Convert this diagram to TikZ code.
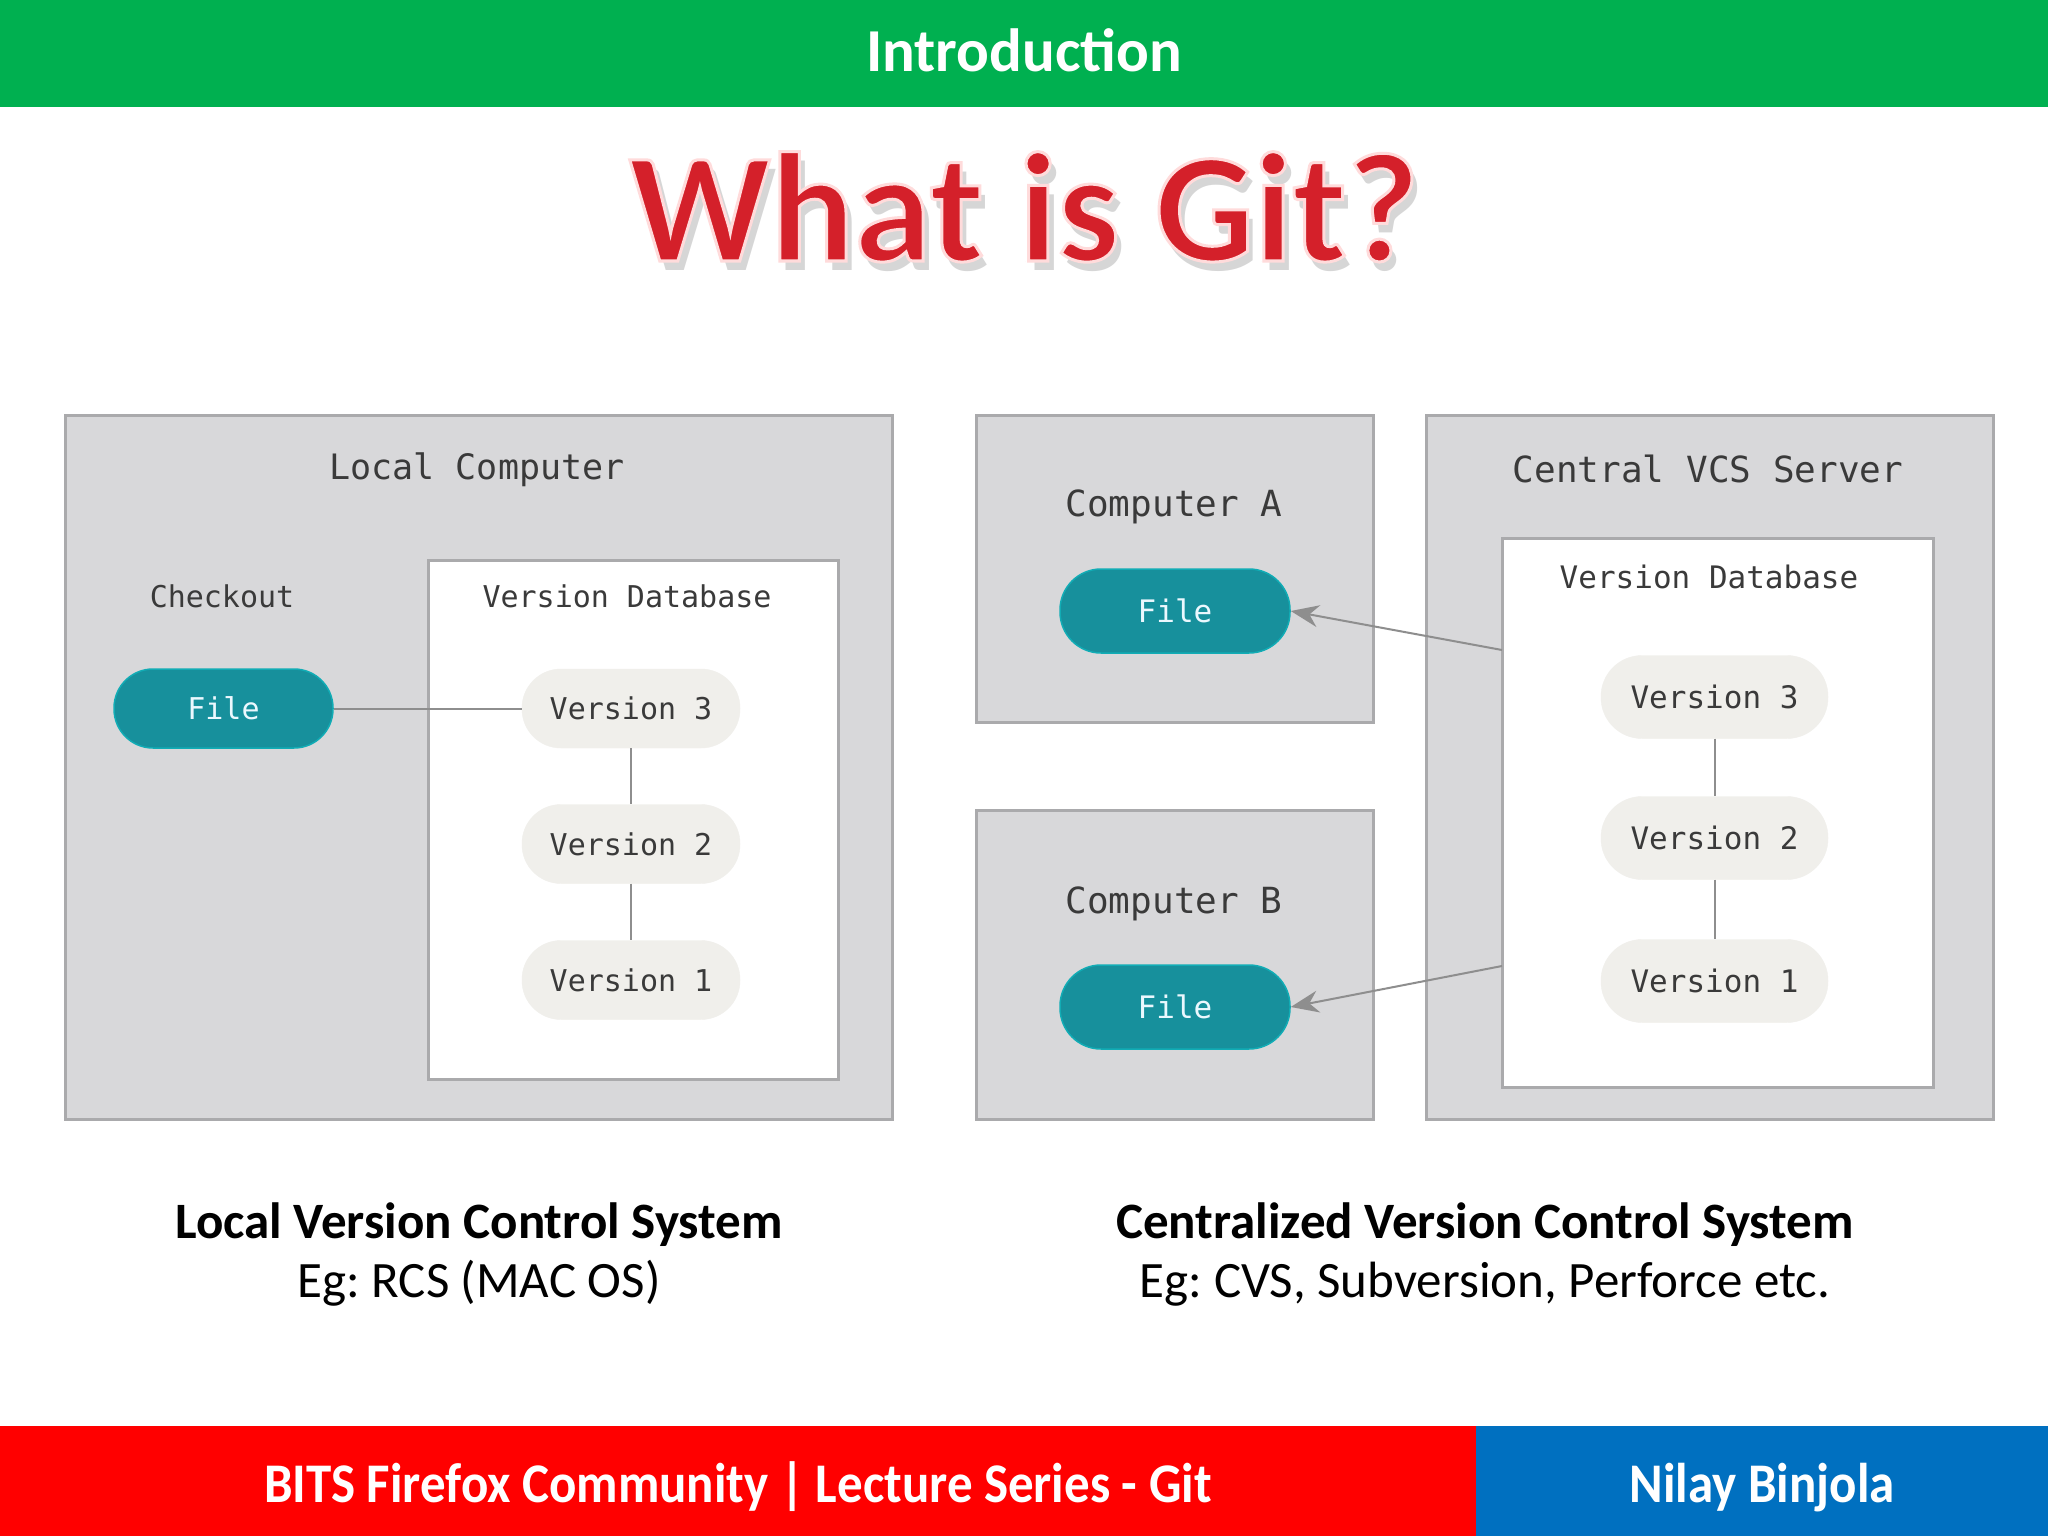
\documentclass[tikz,border=0pt]{standalone}
\usepackage{fontspec}
\setmainfont{Carlito}
\newfontfamily\monof{DejaVu Sans Mono}
\usetikzlibrary{arrows.meta}
\frenchspacing
\definecolor{topgreen}{HTML}{00B050}
\definecolor{footred}{HTML}{FF0000}
\definecolor{footblue}{HTML}{0070C0}
\definecolor{boxgrey}{HTML}{D8D8DA}
\definecolor{boxline}{HTML}{AAAAAC}
\definecolor{tealc}{HTML}{17909C}
\definecolor{pillgrey}{HTML}{F0EFEB}
\definecolor{txtgrey}{HTML}{3A3A3A}
\definecolor{lineg}{HTML}{8E8E8E}
\definecolor{titlered}{HTML}{D4202A}
\newcommand{\mfs}[1]{\monof\fontsize{#1}{#1}\selectfont}
\newcommand{\outlinedtext}[1]{\special{pdf:literal direct 1 0.86 0.86 RG 3 w 2 Tr}#1\special{pdf:literal direct 0 Tr}}
\tikzset{
  greybox/.style={draw=boxline, line width=3pt, fill=boxgrey, inner sep=0pt},
  whitebox/.style={draw=boxline, line width=3pt, fill=white, inner sep=0pt},
  filepill/.style={fill=tealc, draw=tealc!75!cyan, line width=1.5pt, text=cyan!8!white, rounded corners=#1},
  verpill/.style={fill=pillgrey, draw=pillgrey, text=txtgrey, rounded corners=#1},
  lbl/.style={text=txtgrey, anchor=base, inner sep=0pt},
  link/.style={draw=lineg, line width=2pt},
  arr/.style={draw=lineg, line width=2pt, -{Stealth[length=28pt, width=22pt]}},
}
\begin{document}
\begin{tikzpicture}[x=1pt, y=-1pt]
\useasboundingbox (0,0) rectangle (2048,1536);
\fill[white] (0,0) rectangle (2048,1536);
% header
\node[fill=topgreen, minimum width=2048pt, minimum height=107pt, inner sep=0pt, anchor=north west] (hdr) at (0,0) {};
\node[text=white, anchor=base, inner sep=0pt, font=\bfseries\fontsize{61}{61}\selectfont] (hdrt) at (1024,72) {Introduction};
% title
\node[text=black!40, opacity=0.4, anchor=base, inner sep=0pt, font=\bfseries\fontsize{156}{156}\selectfont] (titsh) at (1030,270) {What is Git?};
\node[text=titlered, anchor=base, inner sep=0pt, font=\bfseries\fontsize{156}{156}\selectfont] (tit) at (1024,261) {\outlinedtext{What is Git?}};

% ---- Local VCS ----
\node[greybox, minimum width=827pt, minimum height=704pt] (local) at (478.5,767) {};
\node[lbl, font=\mfs{35}] (localt) at (477,479) {Local Computer};
\node[lbl, font=\mfs{30}] (chk) at (222,607) {Checkout};
\node[whitebox, minimum width=410pt, minimum height=519pt] (ldb) at (633,819.5) {};
\node[lbl, font=\mfs{30}] (ldbt) at (627,607) {Version Database};
\node[filepill=39pt, minimum width=219pt, minimum height=79pt, font=\mfs{30}] (lfile) at (223.5,708.5) {File};
\node[verpill=39pt, minimum width=218pt, minimum height=79pt, font=\mfs{30}] (lv3) at (631,708.5) {Version 3};
\node[verpill=39pt, minimum width=218pt, minimum height=79pt, font=\mfs{30}] (lv2) at (631,844) {Version 2};
\node[verpill=39pt, minimum width=218pt, minimum height=79pt, font=\mfs{30}] (lv1) at (631,980) {Version 1};
\draw[link] (lfile.east) -- (lv3.west);
\draw[link] (lv3.south) -- (lv2.north);
\draw[link] (lv2.south) -- (lv1.north);

% ---- Centralized VCS ----
\node[greybox, minimum width=397pt, minimum height=307pt] (ca) at (1174.5,568.5) {};
\node[lbl, font=\mfs{36}] (cat) at (1174,516) {Computer A};
\node[filepill=41pt, minimum width=230pt, minimum height=84pt, font=\mfs{31}] (afile) at (1175,611) {File};
\node[greybox, minimum width=397pt, minimum height=309pt] (cb) at (1174.5,964.5) {};
\node[lbl, font=\mfs{36}] (cbt) at (1174,913) {Computer B};
\node[filepill=41pt, minimum width=230pt, minimum height=84pt, font=\mfs{31}] (bfile) at (1175,1007) {File};
\node[greybox, minimum width=567pt, minimum height=704pt] (srv) at (1709.5,767) {};
\node[lbl, font=\mfs{36}] (srvt) at (1708,482) {Central VCS Server};
\node[whitebox, minimum width=431pt, minimum height=549pt] (sdb) at (1717.5,812.5) {};
\node[lbl, font=\mfs{31}] (sdbt) at (1709,588) {Version Database};
\node[verpill=41pt, minimum width=227pt, minimum height=83pt, font=\mfs{31}] (sv3) at (1714.5,697) {Version 3};
\node[verpill=41pt, minimum width=227pt, minimum height=83pt, font=\mfs{31}] (sv2) at (1714.5,838) {Version 2};
\node[verpill=41pt, minimum width=227pt, minimum height=83pt, font=\mfs{31}] (sv1) at (1714.5,981) {Version 1};
\draw[link] (sv3.south) -- (sv2.north);
\draw[link] (sv2.south) -- (sv1.north);
\coordinate (pa) at (1502,650);
\coordinate (pb) at (1502,966);
\draw[arr] (pa) -- (afile.east);
\draw[arr] (pb) -- (bfile.east);

% captions
\node[anchor=base, inner sep=0pt, font=\bfseries\fontsize{51}{51}\selectfont] (c1) at (479,1238) {Local Version Control System};
\node[anchor=base, inner sep=0pt, font=\fontsize{51}{51}\selectfont] (c1b) at (479,1297) {Eg: RCS (MAC OS)};
\node[anchor=base, inner sep=0pt, font=\bfseries\fontsize{51}{51}\selectfont] (c2) at (1485,1238) {Centralized Version Control System};
\node[anchor=base, inner sep=0pt, font=\fontsize{51}{51}\selectfont] (c2b) at (1485,1297) {Eg: CVS, Subversion, Perforce etc.};

% footer
\node[fill=footred, minimum width=1476pt, minimum height=110pt, inner sep=0pt, anchor=north west] (fl) at (0,1426) {};
\node[fill=footblue, minimum width=572pt, minimum height=110pt, inner sep=0pt, anchor=north west] (fr) at (1476,1426) {};
\node[text=white, anchor=base, inner sep=0pt, font=\bfseries\fontsize{56}{56}\selectfont] (flt) at (738,1502) {\scalebox{0.91}[1]{BITS Firefox Community | Lecture Series - Git}};
\node[text=white, anchor=base, inner sep=0pt, font=\bfseries\fontsize{56}{56}\selectfont] (frt) at (1762,1502) {\scalebox{0.91}[1]{Nilay Binjola}};
\end{tikzpicture}
\end{document}
